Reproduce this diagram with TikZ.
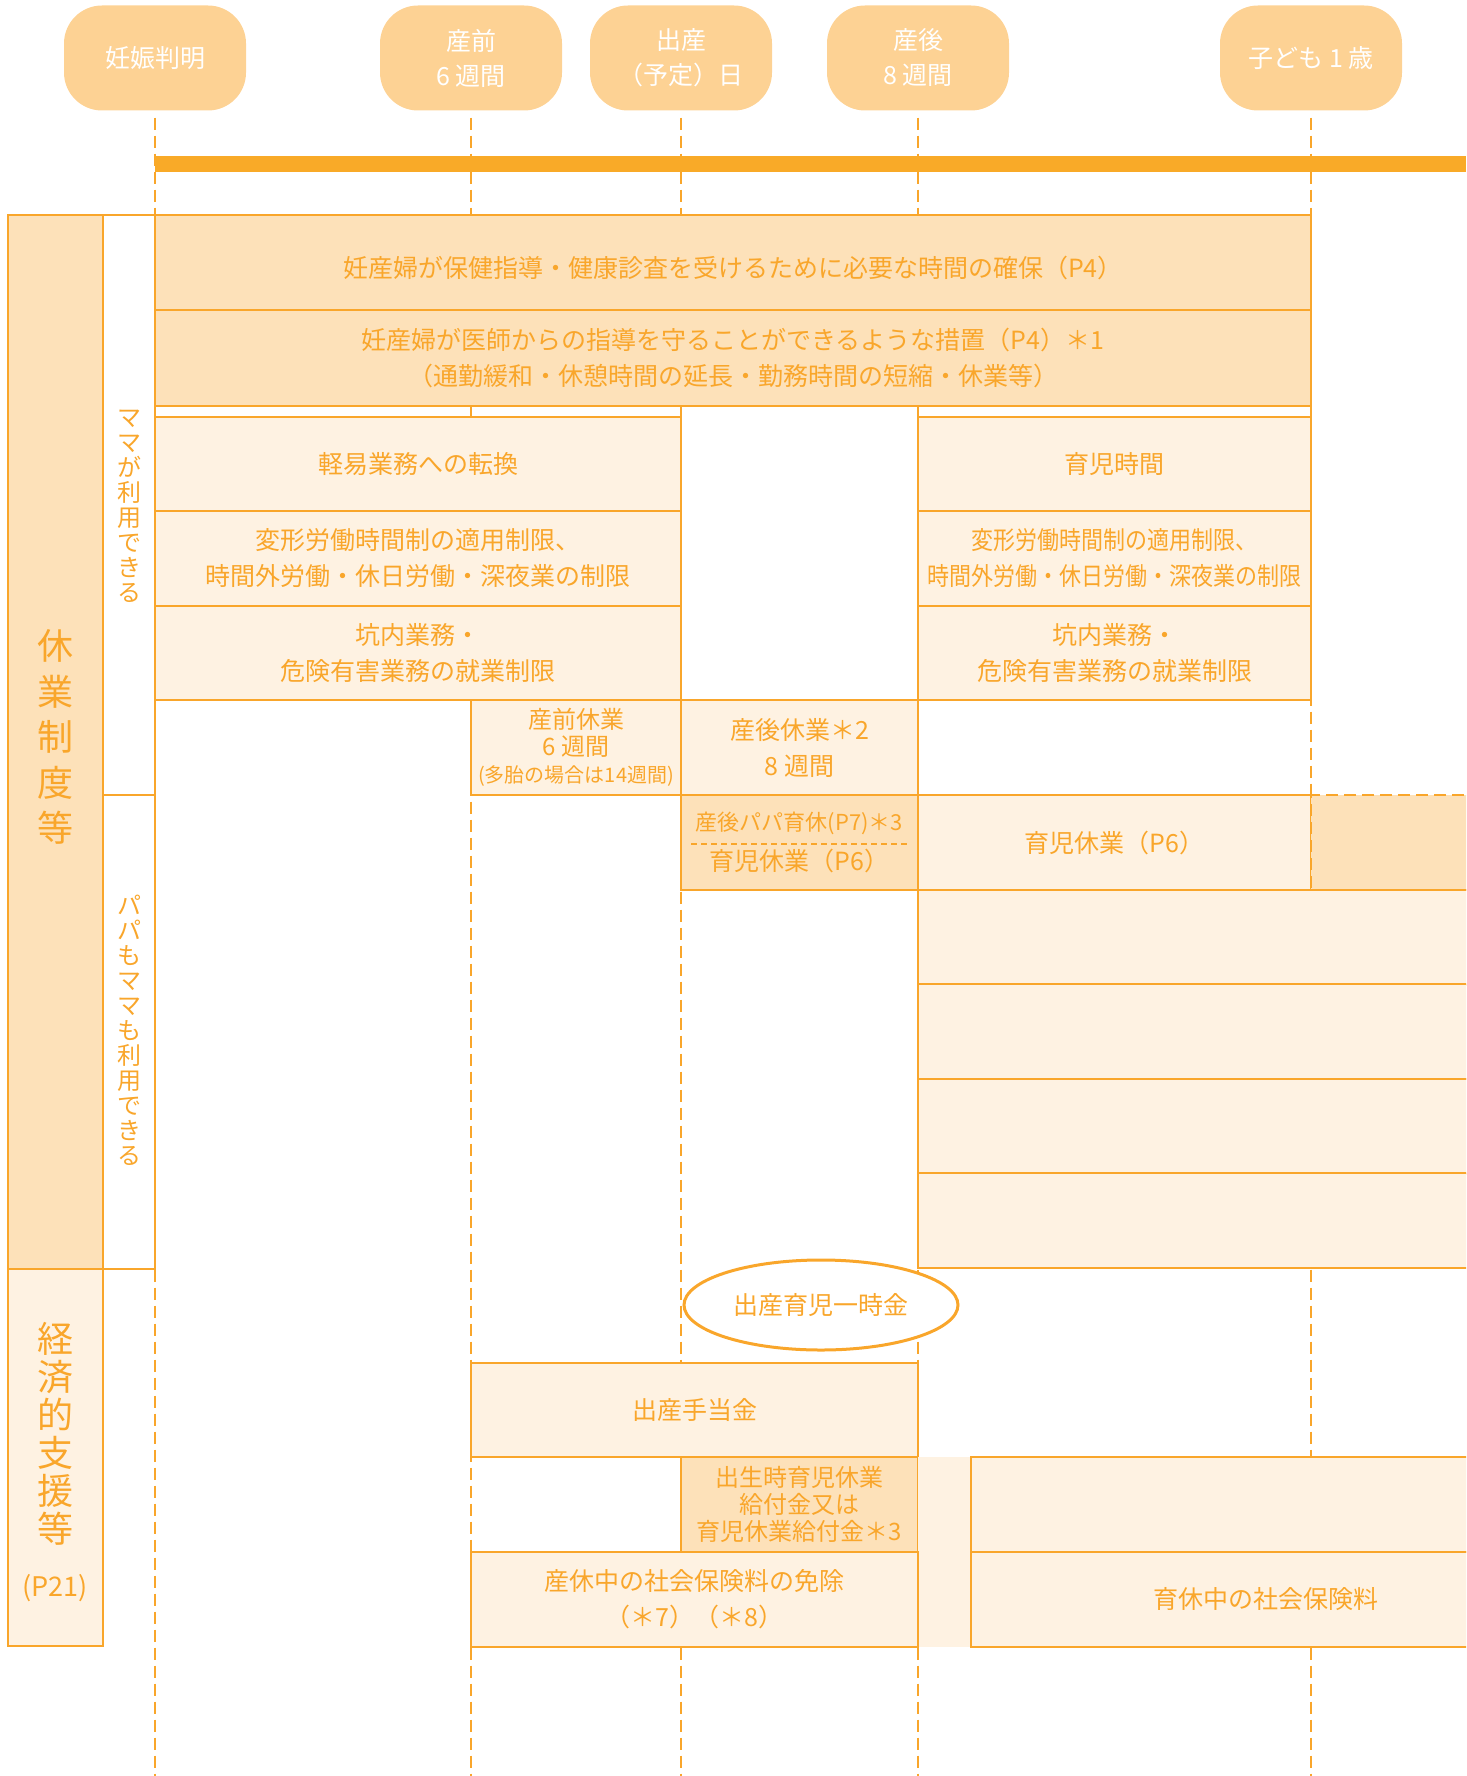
\documentclass[tikz,border=0pt]{standalone}
\usepackage{fontspec}
\setmainfont{Noto Sans CJK JP}
\usepackage{graphicx}
\usetikzlibrary{shapes.geometric}
\definecolor{orline}{RGB}{249,166,43}
\definecolor{orbar}{RGB}{249,170,40}
\definecolor{pillfill}{RGB}{253,210,148}
\definecolor{darkfill}{RGB}{253,225,185}
\definecolor{litefill}{RGB}{254,242,226}
\newcommand{\squeezed}[1]{\scalebox{0.88}[1]{#1}}

\begin{document}
\begin{tikzpicture}[x=1pt,y=-1pt,
    every node/.style={text=orline,font=\fontsize{25}{36}\selectfont,align=center},
    cell/.style 2 args={draw=orline,line width=1.5pt,inner sep=0pt,outer sep=0pt,anchor=north west,minimum width=#1,minimum height=#2},
    dk/.style={fill=darkfill},
    lt/.style={fill=litefill},
    pill/.style={fill=pillfill,rounded corners=38pt,minimum width=182,minimum height=105,inner sep=0pt,text=white,font=\fontsize{25}{35}\selectfont},
    guide/.style={draw=orline,line width=1.5pt,dash pattern=on 12pt off 6pt},
    vtext/.style={inner sep=0pt}]
    \useasboundingbox (0,0) rectangle (1466,1776);
    \clip (0,0) rectangle (1466,1776);

    % time points
    \node[pill] (p0) at (155,58) {妊娠判明};
    \node[pill] (p1) at (471,58) {産前\\6 週間};
    \node[pill] (p2) at (681,58) {出産\\（予定）日};
    \node[pill] (p3) at (918,58) {産後\\8 週間};
    \node[pill] (p4) at (1311,58) {子ども 1 歳};

    \foreach \gx/\gn in {155/0,471/1,681/2,918/3,1311/4} {
        \coordinate (g\gn) at (\gx,1776);
        \draw[guide,shorten <=7pt] (p\gn.south) -- (g\gn);
    }
    \fill[orbar] (155,156) rectangle (1466,172);

    % left headings
    \node[cell={95}{1054},dk] (kyugyo) at (8,215) {};
    \node[vtext,font=\fontsize{36}{45.5}\selectfont] (kyugyotxt) at (55,737) {休\\業\\制\\度\\等};
    \node[cell={95}{377},lt] (keizai) at (8,1269) {};
    \node[vtext,font=\fontsize{36}{38}\selectfont] (keizaitxt) at (55,1434) {経\\済\\的\\支\\援\\等};
    \node[vtext,font=\fontsize{27}{30}\selectfont] (p21) at (55,1588) {(P21)};

    \node[cell={52}{580},fill=white] (mama) at (103,215) {};
    \node[vtext,font=\fontsize{24}{25}\selectfont] (mamatxt) at (129,506) {マ\\マ\\が\\利\\用\\で\\き\\る};
    \node[cell={52}{474},fill=white] (papa) at (103,795) {};
    \node[vtext,font=\fontsize{24}{25}\selectfont] (papatxt) at (129,1030) {パ\\パ\\も\\マ\\マ\\も\\利\\用\\で\\き\\る};

    % mother only
    \node[cell={1156}{95},dk] (kenshin) at (155,215) {};
    \node[yshift=-6pt] (kenshintxt) at (kenshin) {妊産婦が保健指導・健康診査を受けるために必要な時間の確保（P4）};
    \node[cell={1156}{96},dk] (shido) at (155,310) {妊産婦が医師からの指導を守ることができるような措置（P4）＊1\\（通勤緩和・休憩時間の延長・勤務時間の短縮・休業等）};

    \node[cell={526}{94},lt] (keieki) at (155,417) {軽易業務への転換};
    \node[cell={526}{95},lt] (henkei) at (155,511) {変形労働時間制の適用制限、\\時間外労働・休日労働・深夜業の制限};
    \node[cell={526}{94},lt] (kounai) at (155,606) {坑内業務・\\危険有害業務の就業制限};

    \node[cell={393}{94},lt] (ikujijikan) at (918,417) {育児時間};
    \node[cell={393}{95},lt] (henkeib) at (918,511) {\squeezed{変形労働時間制の適用制限、}\\\squeezed{時間外労働・休日労働・深夜業の制限}};
    \node[cell={393}{94},lt] (kounaib) at (918,606) {坑内業務・\\危険有害業務の就業制限};

    \node[cell={210}{95},lt,font=\fontsize{24}{27}\selectfont] (sanzen) at (471,700) {産前休業\\6 週間\\{\fontsize{20}{27}\selectfont (多胎の場合は14週間)}};
    \node[cell={237}{95},lt] (sango) at (681,700) {産後休業＊2\\8 週間};

    % both parents
    \node[cell={237}{95},dk,font=\fontsize{25}{40}\selectfont] (papaikukyu) at (681,795) {{\fontsize{22}{40}\selectfont 産後パパ育休(P7)＊3}\\育児休業（P6）};
    \coordinate (dl) at (691,844);
    \coordinate (dr) at (907,844);
    \draw[orline,line width=1.5pt,dash pattern=on 6pt off 4pt] (dl) -- (dr);
    \node[cell={393}{95},lt] (ikukyu) at (918,795) {育児休業（P6）};
    \node[cell={200}{95},dk,dash pattern=on 12pt off 6pt] (ikukyuext) at (1311,795) {};
    \foreach \ry/\rn in {890/1,984/2,1079/3,1173/4}
        \node[cell={590}{95},lt] (kara\rn) at (918,\ry) {};

    % money
    \node[ellipse,draw=orline,line width=3pt,fill=white,inner sep=0pt,minimum width=274,minimum height=90] (ichijikin) at (821,1305) {出産育児一時金};
    \node[cell={447}{94},lt] (teate) at (471,1363) {出産手当金};
    \node[cell={237}{95},dk,font=\fontsize{24}{27}\selectfont] (kyufu) at (681,1457) {出生時育児休業\\給付金又は\\育児休業給付金＊3};
    \fill[litefill] (918,1457) rectangle (971,1647);
    \node[cell={590}{95},lt] (kyufub) at (971,1457) {};
    \node[cell={447}{95},lt] (menjo) at (471,1552) {産休中の社会保険料の免除\\（＊7）（＊8）};
    \node[cell={590}{95},lt] (ikukyuhoken) at (971,1552) {育休中の社会保険料};
\end{tikzpicture}
\end{document}
